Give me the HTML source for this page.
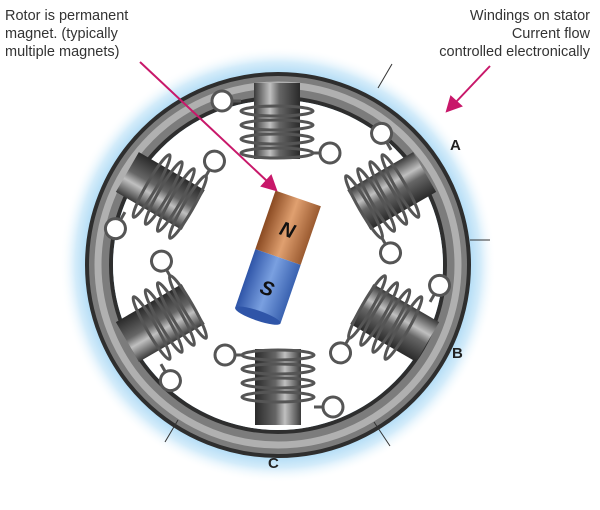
<!DOCTYPE html>
<html><head><style>
body{margin:0;background:#fff;width:600px;height:505px;overflow:hidden;font-family:"Liberation Sans",sans-serif}
</style></head><body>
<svg width="600" height="505" viewBox="0 0 600 505" xmlns="http://www.w3.org/2000/svg">
<defs>
<radialGradient id="glow" cx="50%" cy="50%" r="50%">
<stop offset="0.85" stop-color="#9fd3f3"/><stop offset="0.93" stop-color="#d4ecfa"/><stop offset="1" stop-color="#fff" stop-opacity="0"/>
</radialGradient>
<linearGradient id="core" x1="0" x2="1">
<stop offset="0" stop-color="#3a3a3a"/><stop offset="0.35" stop-color="#c0c0c0"/><stop offset="0.55" stop-color="#666"/><stop offset="1" stop-color="#2a2a2a"/>
</linearGradient>
<linearGradient id="cu" x1="0" x2="1">
<stop offset="0" stop-color="#8a4a22"/><stop offset="0.5" stop-color="#e0a070"/><stop offset="1" stop-color="#9a5a30"/>
</linearGradient>
<linearGradient id="bl" x1="0" x2="1">
<stop offset="0" stop-color="#2f55a8"/><stop offset="0.5" stop-color="#7aa0e0"/><stop offset="1" stop-color="#3a62b0"/>
</linearGradient>
<g id="coil">
<rect x="-23" y="-40" width="46" height="76" fill="url(#core)"/>
<g fill="none" stroke="#555" stroke-width="3">
<ellipse cx="0" cy="-12" rx="36" ry="5"/>
<ellipse cx="0" cy="2" rx="36" ry="5"/>
<ellipse cx="0" cy="16" rx="36" ry="5"/>
<ellipse cx="0" cy="30" rx="36" ry="5"/>
<line x1="-36" y1="-22" x2="-45" y2="-22"/>
<line x1="36" y1="30" x2="43" y2="30"/>
<circle cx="-55" cy="-22" r="10" fill="#fff"/>
<circle cx="53" cy="30" r="10" fill="#fff"/>
</g>
</g>
</defs>
<circle cx="278" cy="265" r="218" fill="url(#glow)"/>
<circle cx="278" cy="265" r="179" fill="none" stroke="#2e2e2e" stroke-width="28"/>
<circle cx="278" cy="265" r="179" fill="none" stroke="#7c7c7c" stroke-width="20"/>
<circle cx="278" cy="265" r="180" fill="none" stroke="#b0b0b0" stroke-width="7"/>
<circle cx="278" cy="265" r="165" fill="#fff"/>
<g stroke="#333" stroke-width="1">
<line x1="378" y1="88" x2="392" y2="64"/>
<line x1="470" y1="240" x2="490" y2="240"/>
<line x1="178" y1="420" x2="165" y2="442"/>
<line x1="374" y1="422" x2="390" y2="446"/>
</g>
<use href="#coil" transform="translate(277,123)"/>
<use href="#coil" transform="translate(390,192) rotate(60)"/>
<use href="#coil" transform="translate(393,322) rotate(120)"/>
<use href="#coil" transform="translate(278,385) rotate(180)"/>
<use href="#coil" transform="translate(162,322) rotate(240)"/>
<use href="#coil" transform="translate(162,192) rotate(300)"/>
<g transform="translate(278,257) rotate(19)">
<rect x="-24" y="-62" width="48" height="62" fill="url(#cu)"/>
<rect x="-24" y="0" width="48" height="62" fill="url(#bl)"/>
<ellipse cx="0" cy="62" rx="24" ry="5" fill="#2f55a8"/>
<text x="0" y="-22" font-size="20" font-weight="bold" font-style="italic" text-anchor="middle" fill="#111">N</text>
<text x="0" y="40" font-size="20" font-weight="bold" font-style="italic" text-anchor="middle" fill="#111">S</text>
</g>
<g stroke="#c8186a" stroke-width="2" fill="#c8186a">
<line x1="140" y1="62" x2="268" y2="182"/>
<polygon points="276,190 262,186 271,176"/>
<line x1="490" y1="66" x2="455" y2="103"/>
<polygon points="447,111 451,97 461,106"/>
</g>
<g font-size="14.5" fill="#333">
<text x="5" y="20">Rotor is permanent</text>
<text x="5" y="38">magnet. (typically</text>
<text x="5" y="56">multiple magnets)</text>
<text x="590" y="20" text-anchor="end">Windings on stator</text>
<text x="590" y="38" text-anchor="end">Current flow</text>
<text x="590" y="56" text-anchor="end">controlled electronically</text>
</g>
<g font-size="15" font-weight="bold" fill="#222">
<text x="450" y="150">A</text>
<text x="452" y="358">B</text>
<text x="268" y="468">C</text>
</g>
</svg>
</body></html>
